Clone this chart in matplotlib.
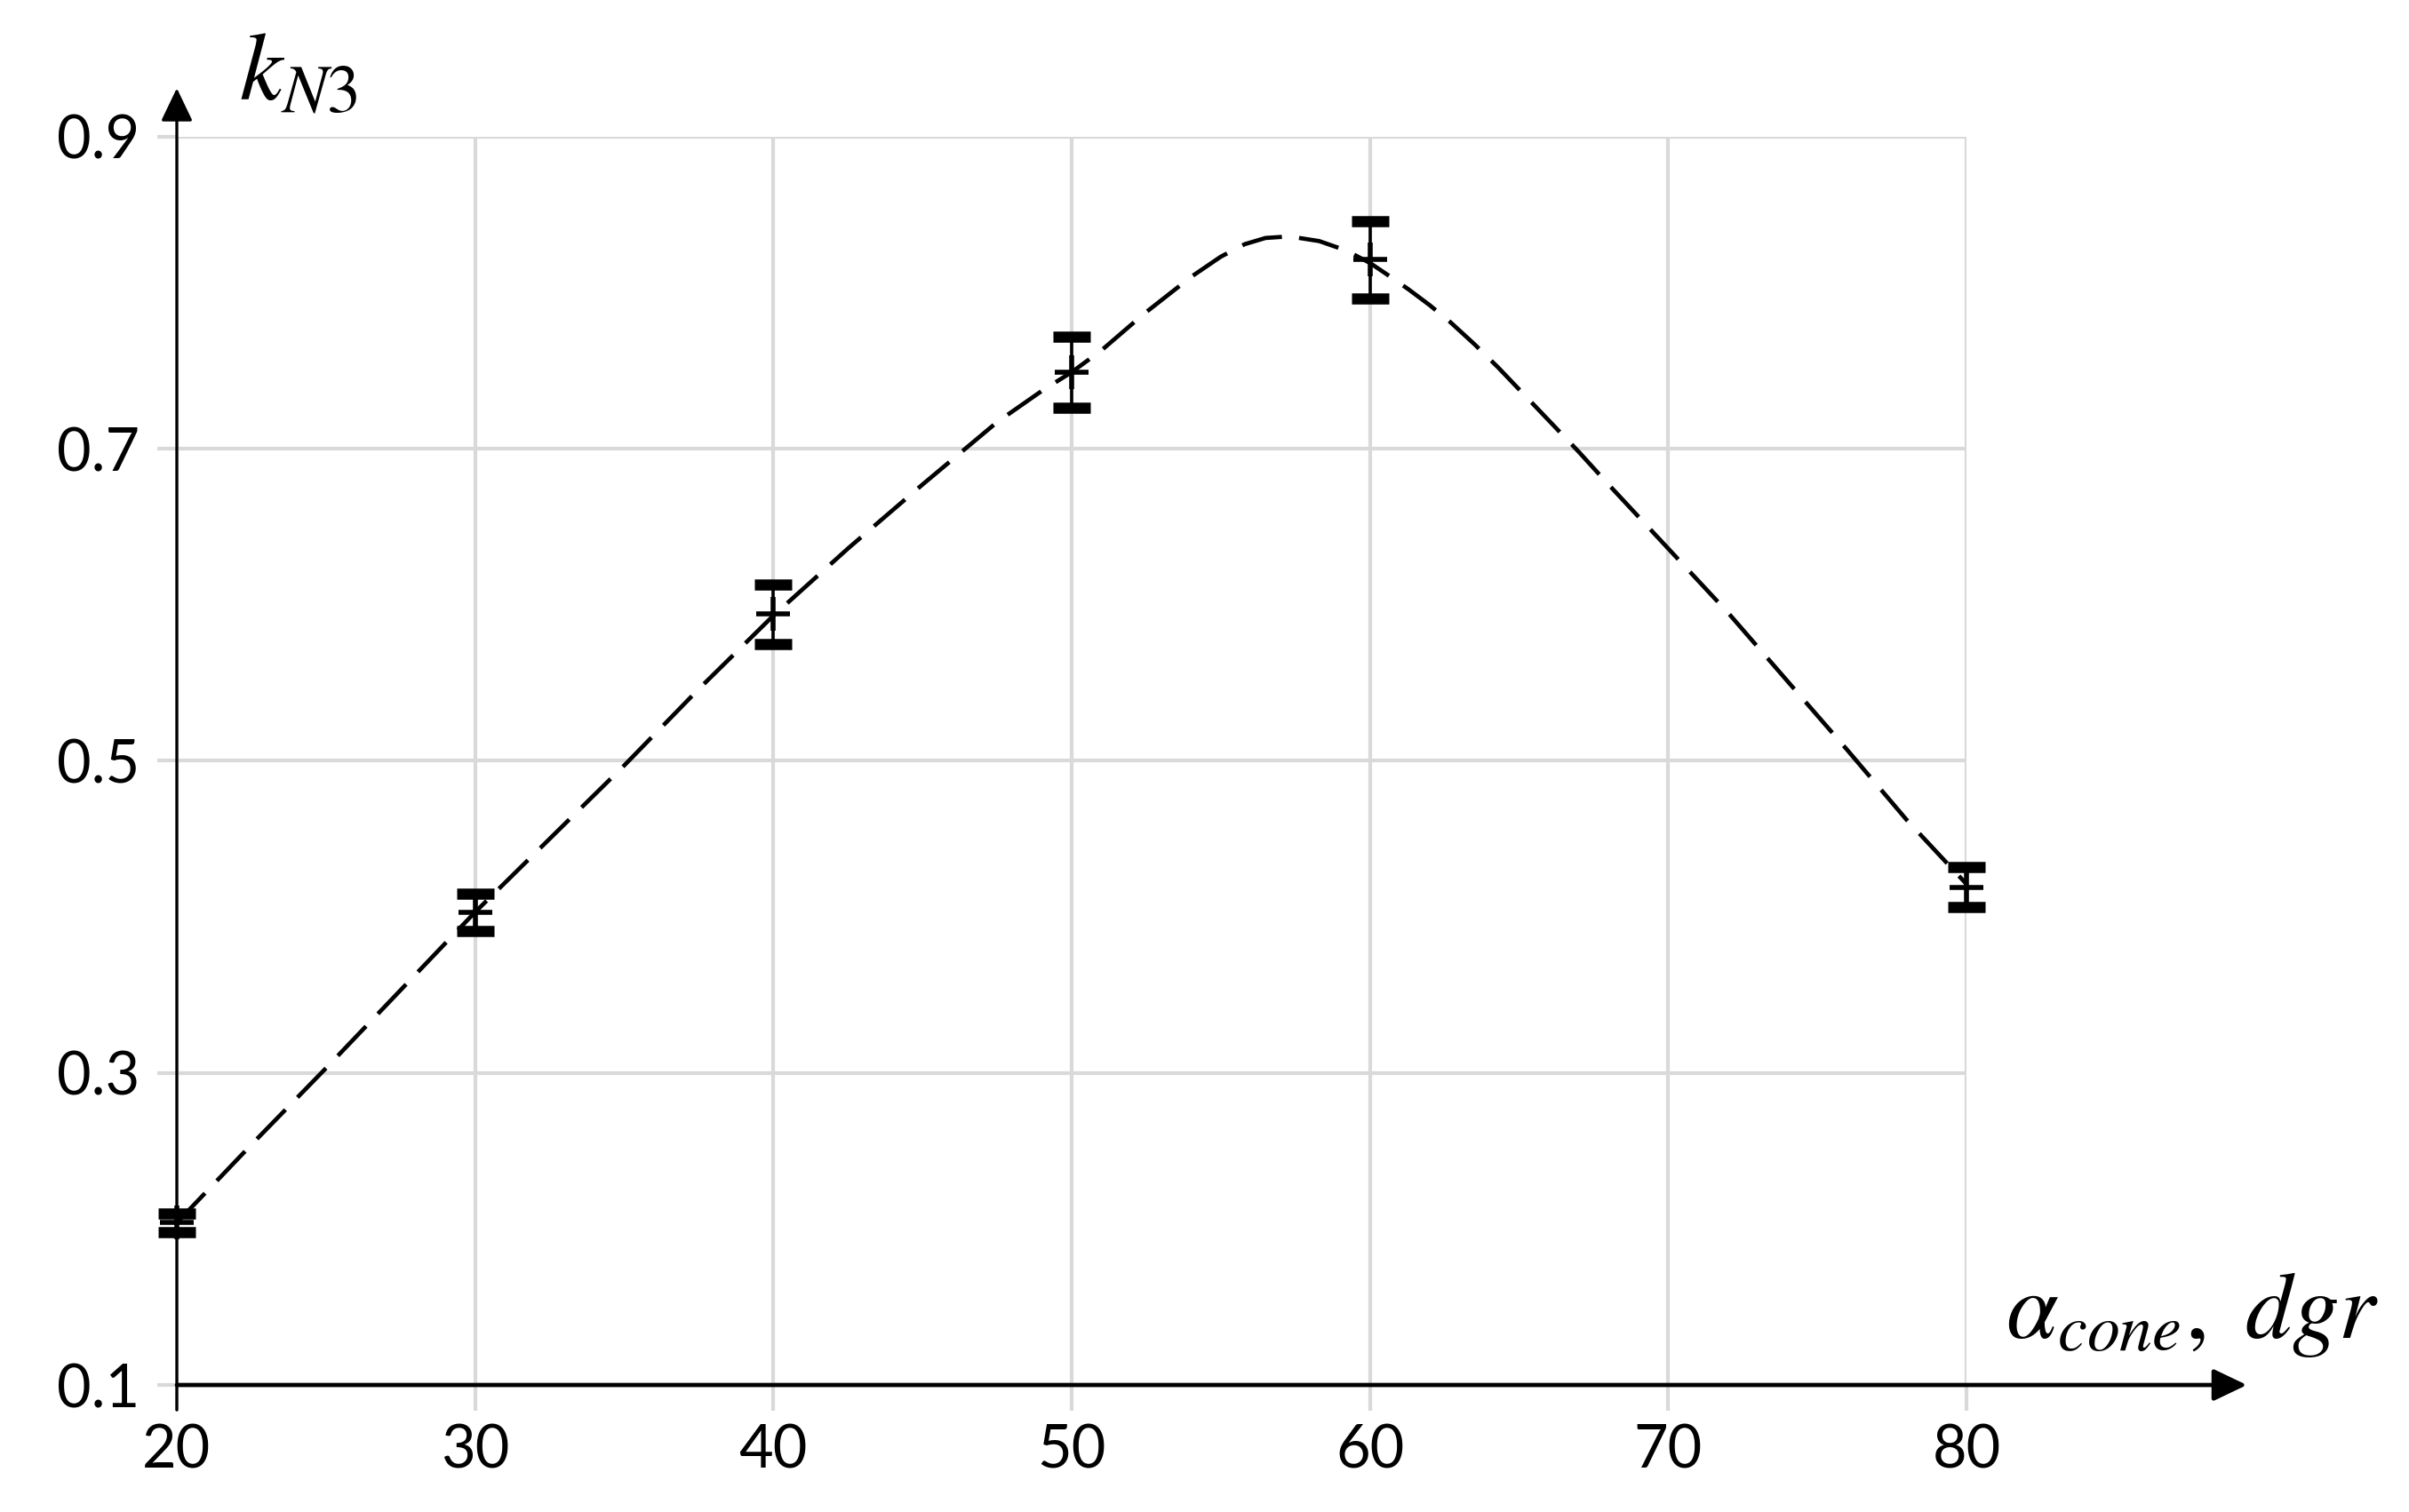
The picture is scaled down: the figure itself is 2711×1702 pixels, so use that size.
import numpy as np
import matplotlib
matplotlib.use("Agg")
import matplotlib.pyplot as plt

# measured points with error bars
angle = [20, 30, 40, 50, 60, 80]
k_n3 = [0.204, 0.403, 0.594, 0.749, 0.821, 0.419]
k_err = [0.006, 0.012, 0.019, 0.023, 0.025, 0.013]

# dashed trend curve
curve_x = [20, 22.5, 25, 27.5, 30, 32.5, 35, 37.5, 40, 42.5, 45, 46, 47.5,
           49, 50, 51, 52.4, 54, 55, 55.8, 56.5, 57.3, 58.3, 59.2, 60, 60.7,
           61.3, 62, 62.7, 63.5, 64.3, 65, 66, 67, 68, 70, 72, 74, 76, 78, 80]
curve_y = [0.204, 0.254, 0.303, 0.353, 0.403, 0.450, 0.497, 0.546, 0.593,
           0.636, 0.677, 0.693, 0.717, 0.737, 0.749, 0.763, 0.786, 0.810,
           0.823, 0.831, 0.835, 0.836, 0.833, 0.827, 0.819, 0.810, 0.802,
           0.792, 0.781, 0.767, 0.752, 0.738, 0.718, 0.698, 0.677, 0.636,
           0.595, 0.551, 0.507, 0.462, 0.421]

x_ticks = [20, 30, 40, 50, 60, 70, 80]
y_ticks = [0.1, 0.3, 0.5, 0.7, 0.9]

plt.rcParams['font.family'] = ['Lato', 'DejaVu Sans']
plt.rcParams['mathtext.fontset'] = 'stix'
plt.rcParams['lines.scale_dashes'] = False

grid_col = '#d9d9d9'

fig = plt.figure(figsize=(27.11, 17.02), dpi=100)
ax = fig.add_axes([0.0734, 0.0840, 0.7429, 0.8257])
ax.set_xlim(20, 80)
ax.set_ylim(0.1, 0.9)
for s in ax.spines.values():
    s.set_visible(False)
ax.set_axisbelow(True)
ax.grid(True, color=grid_col, linewidth=3)
ax.set_xticks(x_ticks)
ax.set_yticks(y_ticks)
ax.set_yticklabels(["%.1f" % v for v in y_ticks])
ax.tick_params(axis='x', color=grid_col, width=3, length=21, pad=10, labelsize=48)
ax.tick_params(axis='y', color=grid_col, width=3, length=16, pad=14, labelsize=48)

# trend curve
ax.plot(curve_x, curve_y, color='black', linewidth=3.4, dashes=(33, 14),
        zorder=3, clip_on=False)

# measurements: bars with heavy caps, then the "+" markers
ax.errorbar(angle, k_n3, yerr=k_err, fmt='none', ecolor='black',
            elinewidth=2.6, capsize=15, capthick=9, zorder=4, clip_on=False)
ax.plot(angle, k_n3, '+', color='black', markersize=28, markeredgewidth=4,
        zorder=5, clip_on=False)

# axis arrows
arrow = dict(arrowstyle='-|>,head_length=1.15,head_width=0.55', mutation_scale=20,
             color='black', shrinkA=0, shrinkB=0)
ax.annotate('', xy=(20, 0.931), xytext=(20, 0.084),
            arrowprops=dict(arrow, lw=2.4), annotation_clip=False, zorder=5)
ax.annotate('', xy=(89.4, 0.1), xytext=(20, 0.1),
            arrowprops=dict(arrow, lw=3.4), annotation_clip=False, zorder=5)

# axis titles
ax.text(22.1, 0.923, r'$k_{N3}$', fontsize=78, ha='left', va='baseline',
        clip_on=False)
ax.text(81.3, 0.13, r'$\alpha_{cone},\ dgr$', fontsize=76, ha='left',
        va='baseline', clip_on=False)

fig.savefig('out.png', dpi=100)
